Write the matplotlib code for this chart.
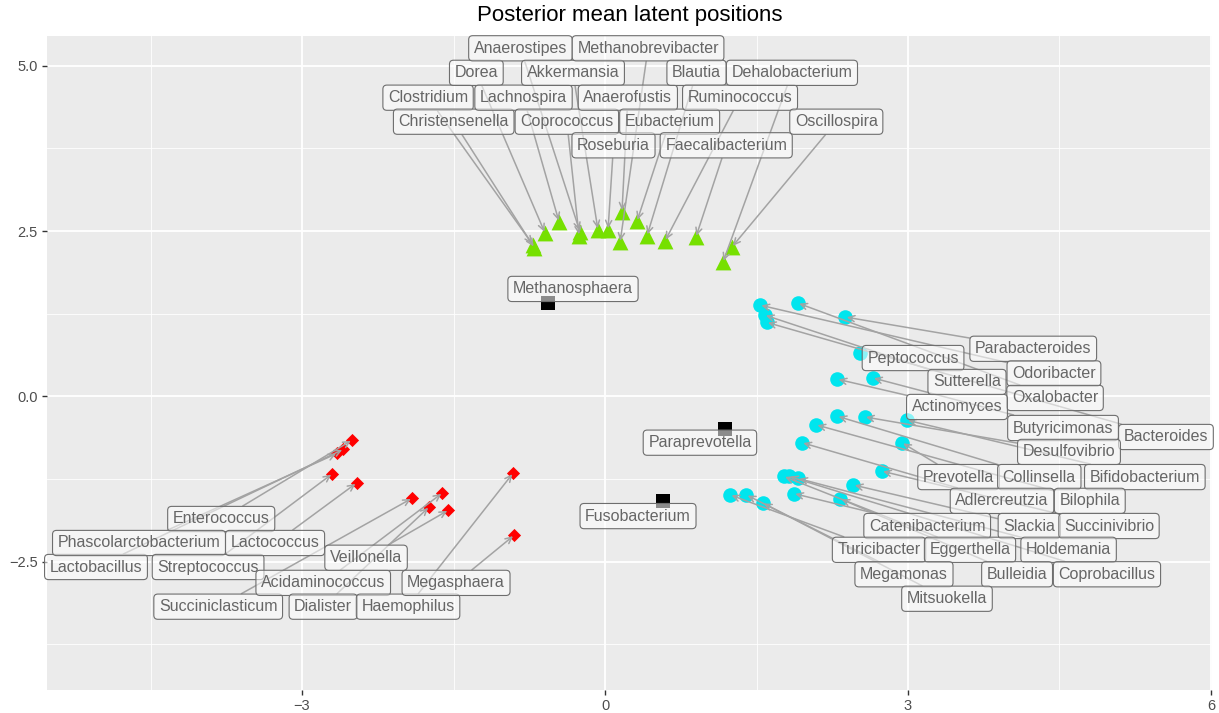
import matplotlib
matplotlib.use('Agg')
import matplotlib.pyplot as plt

plt.rcParams['font.family'] = ['Liberation Sans', 'DejaVu Sans']

# --- green cluster (triangles)
green_names = ['Clostridium', 'Christensenella', 'Dorea', 'Lachnospira', 'Anaerostipes',
               'Coprococcus', 'Akkermansia', 'Roseburia', 'Anaerofustis', 'Methanobrevibacter',
               'Eubacterium', 'Blautia', 'Ruminococcus', 'Faecalibacterium', 'Oscillospira',
               'Dehalobacterium']
green_x = [-0.713, -0.70, -0.594, -0.455, -0.248, -0.257, -0.07, 0.03, 0.168, 0.149,
           0.317, 0.416, 0.594, 0.90, 1.257, 1.168]
green_y = [2.29, 2.25, 2.47, 2.64, 2.49, 2.43, 2.52, 2.52, 2.79, 2.33,
           2.65, 2.43, 2.35, 2.41, 2.26, 2.03]
green_lx = [-1.752, -1.498, -1.274, -0.807, -0.837, -0.378, -0.317, 0.084, 0.226, 0.426,
            0.64, 0.906, 1.337, 1.20, 2.29, 1.851]
green_ly = [4.517, 4.154, 4.893, 4.517, 5.264, 4.154, 4.893, 3.797, 4.517, 5.264,
            4.154, 4.893, 4.517, 3.797, 4.154, 4.893]

# --- red cluster (diamonds)
red_names = ['Enterococcus', 'Lactobacillus', 'Phascolarctobacterium', 'Streptococcus',
             'Lactococcus', 'Succiniclasticum', 'Acidaminococcus', 'Dialister', 'Veillonella',
             'Haemophilus', 'Megasphaera']
red_x = [-2.505, -2.59, -2.65, -2.70, -2.46, -1.91, -1.61, -1.74, -1.55, -0.91, -0.90]
red_y = [-0.66, -0.80, -0.86, -1.17, -1.31, -1.54, -1.46, -1.67, -1.72, -1.16, -2.10]
red_lx = [-3.80, -5.04, -4.614, -3.93, -3.267, -3.83, -2.79, -2.79, -2.366, -1.95, -1.475]
red_ly = [-1.854, -2.58, -2.217, -2.58, -2.217, -3.18, -2.82, -3.18, -2.44, -3.18, -2.82]

# --- cyan cluster (circles)
cyan_names = ['Parabacteroides', 'Peptococcus', 'Odoribacter', 'Sutterella', 'Oxalobacter',
              'Actinomyces', 'Butyricimonas', 'Bacteroides', 'Desulfovibrio', 'Prevotella',
              'Collinsella', 'Bifidobacterium', 'Adlercreutzia', 'Bilophila', 'Catenibacterium',
              'Slackia', 'Succinivibrio', 'Turicibacter', 'Eggerthella', 'Holdemania',
              'Megamonas', 'Bulleidia', 'Coprobacillus', 'Mitsuokella']
cyan_x = [2.38, 2.52, 1.535, 1.58, 1.91, 2.30, 2.65, 1.60, 2.57, 2.94,
          2.30, 2.99, 1.95, 2.09, 1.87, 2.46, 2.74, 1.24, 1.77, 1.91,
          1.40, 2.33, 1.82, 1.56]
cyan_y = [1.20, 0.66, 1.38, 1.23, 1.41, 0.26, 0.28, 1.12, -0.31, -0.70,
          -0.30, -0.36, -0.70, -0.43, -1.47, -1.34, -1.13, -1.49, -1.21, -1.24,
          -1.49, -1.55, -1.21, -1.61]
cyan_lx = [4.24, 3.05, 4.445, 3.584, 4.456, 3.485, 4.535, 5.554, 4.594, 3.50,
           4.30, 5.345, 3.931, 4.80, 3.19, 4.20, 4.99, 2.713, 3.614, 4.59,
           2.96, 4.08, 4.97, 3.386]
cyan_ly = [0.72, 0.58, 0.347, 0.218, -0.024, -0.16, -0.478, -0.614, -0.84, -1.22,
           -1.22, -1.22, -1.58, -1.58, -1.96, -1.96, -1.96, -2.32, -2.32, -2.32,
           -2.69, -2.69, -2.69, -3.06]

# --- black (squares)
black_names = ['Methanosphaera', 'Paraprevotella', 'Fusobacterium']
black_x = [-0.564, 1.188, 0.574]
black_y = [1.41, -0.49, -1.58]
black_lx = [-0.317, 0.94, 0.327]
black_ly = [1.625, -0.70, -1.81]

no_arrow = ['Methanosphaera', 'Paraprevotella', 'Fusobacterium', 'Peptococcus']

fig = plt.figure(figsize=(12.19, 7.13), dpi=100)
ax = fig.add_axes([0.03856, 0.03226, 0.9557, 0.91725])
ax.set_facecolor('#EBEBEB')
for s in ax.spines.values():
    s.set_visible(False)

ax.set_xlim(-5.525, 6.01)
ax.set_ylim(-4.44, 5.45)
ax.set_xticks([-3, 0, 3, 6])
ax.set_xticklabels(['\u22123', '0', '3', '6'])
ax.set_yticks([-2.5, 0, 2.5, 5.0])
ax.set_yticklabels(['\u22122.5', '0.0', '2.5', '5.0'])
ax.set_xticks([-4.5, -1.5, 1.5, 4.5], minor=True)
ax.set_yticks([-3.75, -1.25, 1.25, 3.75], minor=True)
ax.grid(which='major', color='white', lw=1.3)
ax.grid(which='minor', color='white', lw=0.6)
ax.set_axisbelow(True)
ax.tick_params(which='major', length=3.5, width=1, color='#333333',
               labelsize=10.5, labelcolor='#4D4D4D', pad=3)
ax.tick_params(which='minor', length=0)

ax.scatter(green_x, green_y, marker='^', s=130, color='#76E000', zorder=2, linewidths=0)
ax.scatter(red_x, red_y, marker='D', s=45, color='#FF0000', zorder=2, linewidths=0)
ax.scatter(cyan_x, cyan_y, marker='o', s=110, color='#00E5EE', zorder=2, linewidths=0)
ax.scatter(black_x, black_y, marker='s', s=110, color='black', zorder=2, linewidths=0)


def put_labels(names, xs, ys, lxs, lys):
    for n, x, y, lx, ly in zip(names, xs, ys, lxs, lys):
        bbox = dict(boxstyle='round,pad=0.32,rounding_size=0.25', fc=(1, 1, 1, 0.55),
                    ec='#6E6E6E', lw=0.8)
        t = ax.text(lx, ly, n, ha='center', va='center', fontsize=11.5,
                    color='#666666', bbox=bbox, zorder=3)
        if n not in no_arrow:
            # segment sits under every label, starting at its own box edge
            ax.annotate('', xy=(x, y), xytext=(lx, ly), zorder=2.5,
                        arrowprops=dict(arrowstyle='->,head_length=0.45,head_width=0.22',
                                        color='#A3A3A3', lw=1.1, shrinkA=0, shrinkB=1,
                                        patchA=t.get_bbox_patch()))


put_labels(green_names, green_x, green_y, green_lx, green_ly)
put_labels(red_names, red_x, red_y, red_lx, red_ly)
put_labels(cyan_names, cyan_x, cyan_y, cyan_lx, cyan_ly)
put_labels(black_names, black_x, black_y, black_lx, black_ly)

fig.text(0.5164, 0.978, 'Posterior mean latent positions', ha='center', va='center',
         fontsize=16, color='black')

fig.canvas.draw()
fig.savefig('out.png', dpi=100)
